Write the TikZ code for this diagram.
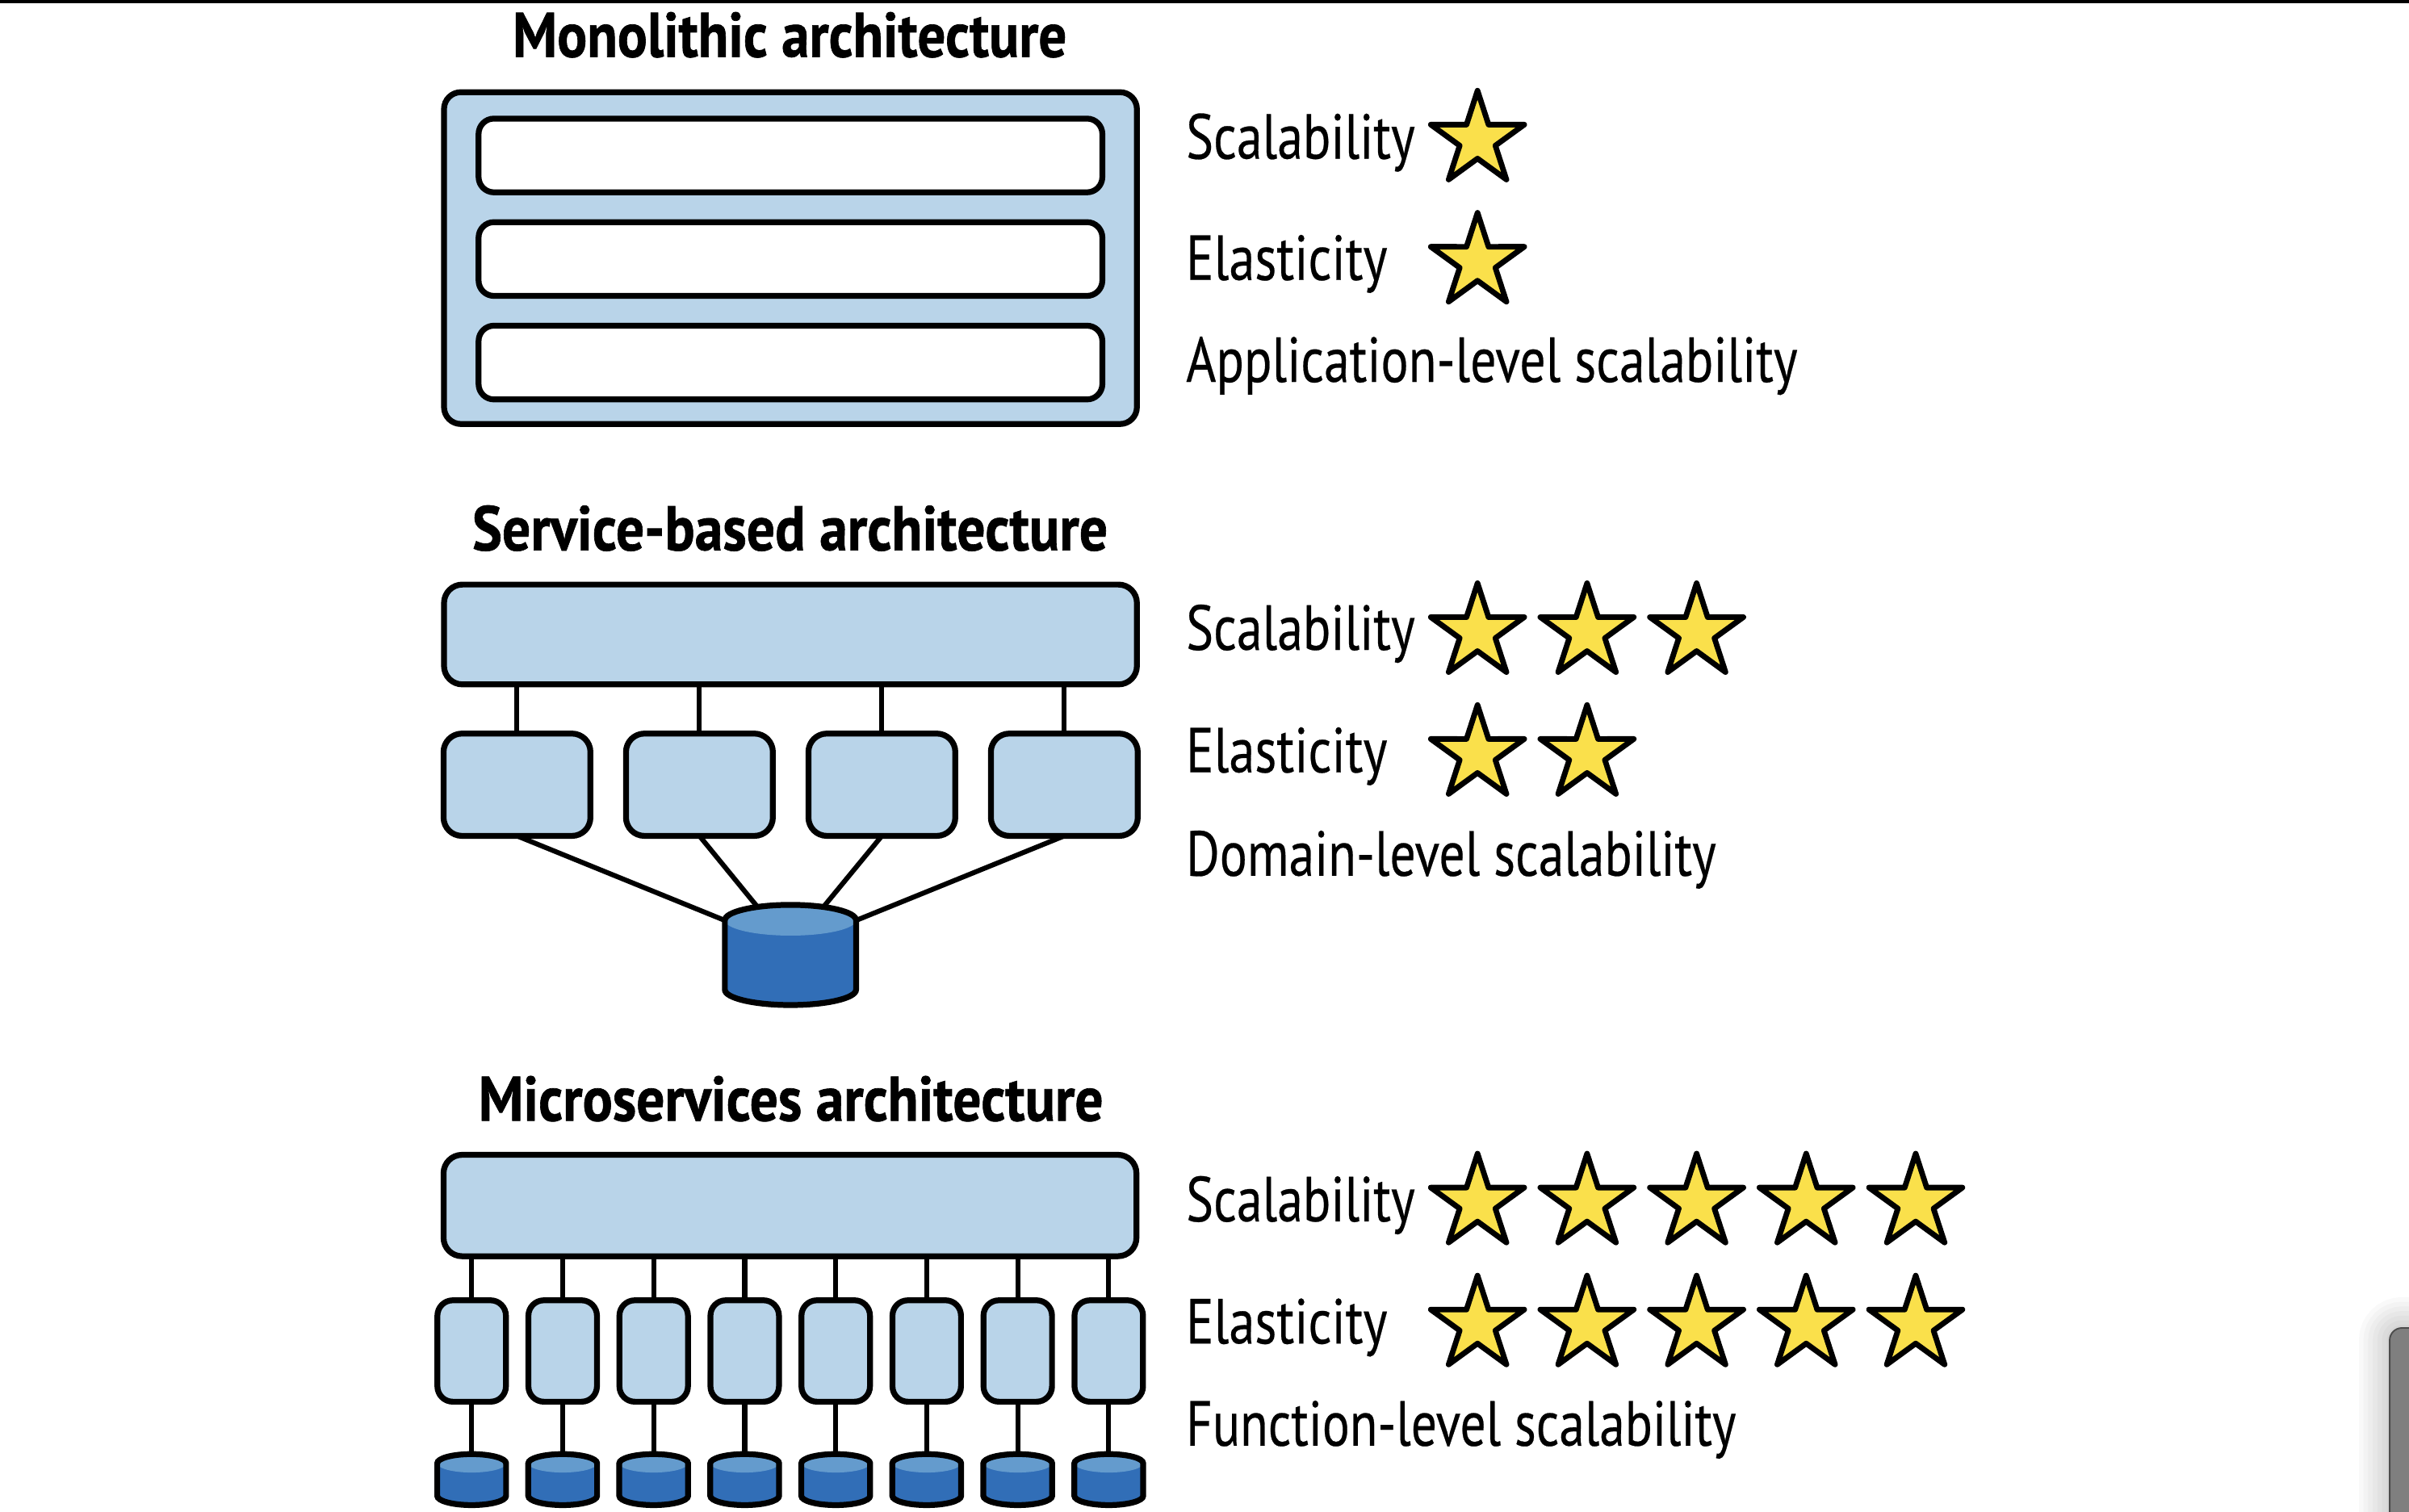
\documentclass[tikz,border=0pt]{standalone}
\usepackage{fontspec}
\usepackage{graphicx}
\newfontfamily\bodyfont[FakeBold=0.35]{PT Sans}
\newfontfamily\titlefont[FakeBold=0.9]{PT Sans}
\usetikzlibrary{calc}
\definecolor{lblue}{RGB}{185,212,233}
\definecolor{dbdark}{RGB}{49,110,183}
\definecolor{dblight}{RGB}{100,155,205}
\definecolor{staryellow}{RGB}{250,224,75}
\definecolor{panelgray}{RGB}{127,127,127}
% cylinder: #1 cx, #2 top ellipse centre y, #3 rx, #4 ry, #5 height between ellipse centres
\newcommand\dbcyl[5]{%
  \fill[dbdark] (#1-#3,#2) -- (#1-#3,#2+#5) arc[start angle=180,end angle=0,x radius=#3,y radius=#4] -- (#1+#3,#2) arc[start angle=0,end angle=-180,x radius=#3,y radius=#4] -- cycle;
  \fill[dblight] (#1,#2) ellipse[x radius=#3,y radius=#4];
  \draw[dbline] (#1-#3,#2) -- (#1-#3,#2+#5) arc[start angle=180,end angle=0,x radius=#3,y radius=#4] -- (#1+#3,#2) arc[start angle=0,end angle=-180,x radius=#3,y radius=#4] -- cycle;
}
\newcommand\mystar[2]{%
  \draw[starst] (#1,#2) +(-90:32) -- +(-54:12.2) -- +(-18:32) -- +(18:12.2) -- +(54:32) -- +(90:12.2) -- +(126:32) -- +(162:12.2) -- +(198:32) -- +(234:12.2) -- cycle;
}
\newcommand\fitw[2]{\resizebox{#1}{\height}{#2}}
\begin{document}
\begin{tikzpicture}[x=0.5pt,y=-0.5pt,
  lbox/.style={draw, line width=1.9pt, fill=lblue, inner sep=0pt, outer sep=0pt, rounded corners=6pt},
  wbox/.style={lbox, fill=white, rounded corners=5pt},
  conn/.style={line width=1.6pt},
  lbl/.style={inner sep=0pt, outer sep=0pt, anchor=base west, font=\bodyfont\fontsize{20.7pt}{24pt}\selectfont},
  ttl/.style={inner sep=0pt, outer sep=0pt, anchor=base, font=\titlefont\bfseries\fontsize{20.5pt}{24pt}\selectfont},
  starst/.style={draw, fill=staryellow, line width=1.8pt, line join=round},
  dbline/.style={draw, line width=1.9pt},
]
\useasboundingbox (0,0) rectangle (1568,984);
\fill[white] (0,0) rectangle (1568,984);
% top black bar
\fill[black] (0,0) rectangle (1568,2.2);

% ---------------- Monolithic ----------------
\node[ttl] (t1) at (514,37) {\fitw{180.3pt}{Monolithic architecture}};
\node[lbox, rounded corners=5.5pt, minimum width=225.5pt, minimum height=108pt] (mono) at (514.5,168) {};
\node[wbox, minimum width=203pt, minimum height=24pt] (mono1) at (514.5,101.2) {};
\node[wbox, minimum width=203pt, minimum height=24pt] (mono2) at (514.5,168.6) {};
\node[wbox, minimum width=203pt, minimum height=24pt] (mono3) at (514.5,236) {};

\node[lbl] (l11) at (772,103.3) {\fitw{74.5pt}{Scalability}};
\node[lbl] (l12) at (772,182.2) {\fitw{65.5pt}{Elasticity}};
\node[lbl] (l13) at (772,248.6) {\fitw{199pt}{Application-level scalability}};
\mystar{961.7}{91}
\mystar{961.7}{170.5}

% ---------------- Service-based ----------------
\node[ttl] (t2) at (514.2,358.2) {\fitw{206.8pt}{Service-based architecture}};
\node[lbox, minimum width=225.5pt, minimum height=32.5pt] (sbar) at (514.5,413) {};
\foreach \i in {0,1,2,3} {
  \node[lbox, minimum width=47.8pt, minimum height=33.3pt] (sb\i) at ({336.5+118.75*\i},510.8) {};
  \draw[conn] (sb\i.north) -- (sb\i.north |- sbar.south);
}
\coordinate (dbL) at (471.5,599);
\coordinate (dbTL) at (493,590.3);
\coordinate (dbTR) at (536,590.3);
\coordinate (dbR) at (557.5,599);
\draw[conn] (sb0.south) -- (dbL);
\draw[conn] (sb1.south) -- (dbTL);
\draw[conn] (sb2.south) -- (dbTR);
\draw[conn] (sb3.south) -- (dbR);
\dbcyl{514.5}{599}{42.7}{10}{45.2}

\node[lbl] (l21) at (772,423) {\fitw{74.5pt}{Scalability}};
\node[lbl] (l22) at (772,502.7) {\fitw{65.5pt}{Elasticity}};
\node[lbl] (l23) at (772,570) {\fitw{172.5pt}{Domain-level scalability}};
\foreach \i in {0,1,2} { \mystar{961.7+71.3*\i}{411.6} }
\foreach \i in {0,1} { \mystar{961.7+71.3*\i}{490.9} }

% ---------------- Microservices ----------------
\node[ttl] (t3) at (514.8,729.5) {\fitw{203.3pt}{Microservices architecture}};
\node[lbox, minimum width=225.5pt, minimum height=33pt] (mbar) at (514.2,784.7) {};
\foreach \i in {0,...,7} {
  \node[lbox, rounded corners=5pt, minimum width=22.3pt, minimum height=33pt] (mb\i) at ({307+59.24*\i},879.4) {};
  \coordinate (mc\i) at ({307+59.24*\i},946.5);
  \draw[conn] (mb\i.north) -- (mb\i.north |- mbar.south);
  \draw[conn] (mb\i.south) -- (mc\i);
  \dbcyl{307+59.24*\i}{952.5}{22.4}{6}{21.2}
}

\node[lbl] (l31) at (772,795) {\fitw{74.5pt}{Scalability}};
\node[lbl] (l32) at (772,874.5) {\fitw{65.5pt}{Elasticity}};
\node[lbl] (l33) at (772,941) {\fitw{179pt}{Function-level scalability}};
\foreach \i in {0,...,4} { \mystar{961.7+71.3*\i}{782.9} }
\foreach \i in {0,...,4} { \mystar{961.7+71.3*\i}{862.3} }

% ---------------- grey panel at bottom right ----------------
\begin{scope}
  \clip (0,0) rectangle (1568,984);
  \foreach \w in {2,5,8,11,14,17,20} {
    \draw[black, opacity=0.025, line width=\w pt, rounded corners=4pt] (1555.4,864.4) rectangle (1600,1020);
  }
  \draw[black!70, fill=panelgray, line width=0.5pt, rounded corners=4pt] (1555.4,864.4) rectangle (1600,1020);
\end{scope}
\end{tikzpicture}
\end{document}
